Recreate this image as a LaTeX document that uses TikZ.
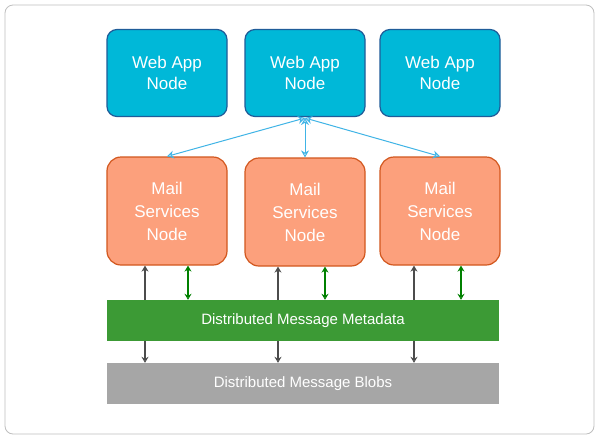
\documentclass[tikz,border=0pt]{standalone}
\usepackage{fontspec}
\setmainfont{Liberation Sans}
\usetikzlibrary{arrows.meta}
\definecolor{webf}{HTML}{00B8D8}
\definecolor{webd}{HTML}{1F5C99}
\definecolor{mailf}{HTML}{FCA07C}
\definecolor{maild}{HTML}{D2571E}
\definecolor{metaf}{HTML}{3C9A35}
\definecolor{blobf}{HTML}{A6A6A6}
\definecolor{bluel}{HTML}{40B4E6}
\begin{document}
\begin{tikzpicture}[x=1pt,y=-1pt,
 web/.style={draw=webd,fill=webf,line width=1.2pt,rounded corners=10pt,minimum width=120pt,minimum height=87pt,text=white,align=center,font=\fontsize{17}{21}\selectfont},
 mail/.style={draw=maild,fill=mailf,line width=1.2pt,rounded corners=14pt,minimum width=120pt,minimum height=108pt,text=white,align=center,font=\fontsize{17}{23}\selectfont},
 bar/.style={minimum width=392pt,minimum height=41pt,text=white,font=\fontsize{15}{18}\selectfont},
 ba/.style={bluel,line width=1pt,{Stealth[open,length=7pt,width=8pt]}-{Stealth[open,length=7pt,width=8pt]}},
 ga/.style={green!50!black,line width=1.1pt,{Stealth[open,length=6pt,width=7pt]}-{Stealth[open,length=6pt,width=7pt]}},
 da/.style={black!70,line width=1.1pt,-{Stealth[open,length=6pt,width=7pt]}}]
\useasboundingbox (0,0) rectangle (600,440);
\draw[black!25,line width=0.8pt,rounded corners=8pt,fill=white] (5,5) rectangle (594,434);
\node[web] (w1) at (167,73) {Web App\\Node};
\node[web] (w2) at (305,73) {Web App\\Node};
\node[web] (w3) at (440,73) {Web App\\Node};
\node[mail] (m1) at (167,211) {Mail\\Services\\Node};
\node[mail] (m2) at (305,212) {Mail\\Services\\Node};
\node[mail] (m3) at (440,211) {Mail\\Services\\Node};
\node[bar,fill=metaf] (meta) at (303,320.5) {Distributed Message Metadata};
\node[bar,fill=blobf] (blob) at (303,383.5) {Distributed Message Blobs};
\coordinate (hub) at (305,118);
\draw[ba] (hub) -- (m1.north);
\draw[ba] (hub) -- (m2.north);
\draw[ba] (hub) -- (m3.north);
\foreach \m/\x in {m1/145,m2/278,m3/414}{
 \draw[da] (meta.north -| \x,0) -- (\m.south -| \x,0);
 \draw[da] (meta.south -| \x,0) -- (blob.north -| \x,0);}
\foreach \m/\x in {m1/188,m2/325,m3/461}{
 \draw[ga] (meta.north -| \x,0) -- (\m.south -| \x,0);}
\end{tikzpicture}
\end{document}
